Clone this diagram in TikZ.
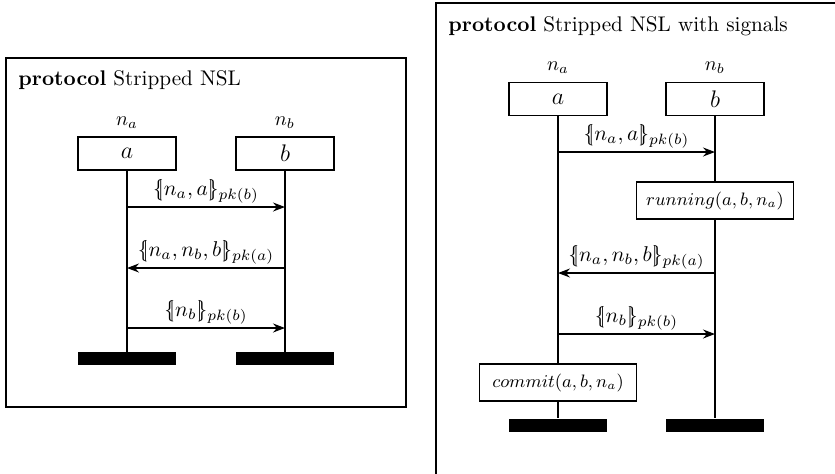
\documentclass[tikz,border=0pt]{standalone}
\usetikzlibrary{arrows.meta}
% encryption brackets {| ... |}
\newcommand{\encl}{\{\mkern-5mu|}
\newcommand{\encr}{|\mkern-5mu\}}
\begin{document}
\begin{tikzpicture}[x=0.5pt,y=-0.5pt,
  frame/.style={draw, line width=0.6pt},
  title/.style={anchor=base west, inner sep=0pt, scale=1.06},
  inst/.style={draw, line width=0.6pt, minimum width=49pt, minimum height=16.5pt, inner sep=0pt, font=\large},
  signal/.style={draw, line width=0.6pt, minimum width=#1, minimum height=18.5pt, inner sep=0pt, font=\small},
  endbar/.style={fill=black, minimum width=49pt, minimum height=6.5pt, inner sep=0pt},
  life/.style={line width=0.6pt},
  msg/.style={line width=0.6pt, -{Stealth[length=6pt,width=4.5pt,inset=2pt]}},
  lbl/.style={midway, above, inner sep=1.5pt, scale=1.07},
  iname/.style={inner sep=0pt}
]
\useasboundingbox (0,0) rectangle (835,473);
\clip (0,0) rectangle (835,473);

% ---------- protocol: Stripped NSL ----------
\draw[frame] (6,58) rectangle (406,407);
\node[title] (t1) at (18,85) {\textbf{protocol} Stripped NSL};

\node[inst] (a1) at (127,153.5) {$a$};
\node[inst] (b1) at (285,153.5) {$b$};
\node[iname] (na1) at (127,123) {$n_a$};
\node[iname] (nb1) at (285,123) {$n_b$};
\node[endbar] (ea1) at (127,358.5) {};
\node[endbar] (eb1) at (285,358.5) {};
\draw[life] (a1.south) -- (ea1.north);
\draw[life] (b1.south) -- (eb1.north);

\coordinate (p1a) at (127,207); \coordinate (p1b) at (285,207);
\coordinate (p2a) at (127,268); \coordinate (p2b) at (285,268);
\coordinate (p3a) at (127,328); \coordinate (p3b) at (285,328);
\draw[msg] (p1a) -- node[lbl] {$\encl n_a, a\encr_{pk(b)}$} (p1b);
\draw[msg] (p2b) -- node[lbl] {$\encl n_a, n_b, b\encr_{pk(a)}$} (p2a);
\draw[msg] (p3a) -- node[lbl] {$\encl n_b\encr_{pk(b)}$} (p3b);

% ---------- protocol: Stripped NSL with signals ----------
\draw[frame] (436,3) rectangle (850,490);
\node[title] (t2) at (448,31) {\textbf{protocol} Stripped NSL with signals};

\node[inst] (a2) at (558,99) {$a$};
\node[inst] (b2) at (715,99) {$b$};
\node[iname] (na2) at (558,68) {$n_a$};
\node[iname] (nb2) at (715,68) {$n_b$};
\node[endbar] (ea2) at (558,425) {};
\node[endbar] (eb2) at (715,425) {};

\node[signal=78.5pt, fill=white] (run) at (715,200.5) {$running(a,b,n_a)$};
\node[signal=78.5pt, fill=white] (com) at (558,382.5) {$commit(a,b,n_a)$};

\draw[life] (a2.south) -- (com.north);
\draw[life] (com.south) -- (ea2.north);
\draw[life] (b2.south) -- (run.north);
\draw[life] (run.south) -- (eb2.north);

\coordinate (q1a) at (558,152); \coordinate (q1b) at (715,152);
\coordinate (q2a) at (558,273); \coordinate (q2b) at (715,273);
\coordinate (q3a) at (558,334); \coordinate (q3b) at (715,334);
\draw[msg] (q1a) -- node[lbl] {$\encl n_a, a\encr_{pk(b)}$} (q1b);
\draw[msg] (q2b) -- node[lbl] {$\encl n_a, n_b, b\encr_{pk(a)}$} (q2a);
\draw[msg] (q3a) -- node[lbl] {$\encl n_b\encr_{pk(b)}$} (q3b);
\end{tikzpicture}
\end{document}
